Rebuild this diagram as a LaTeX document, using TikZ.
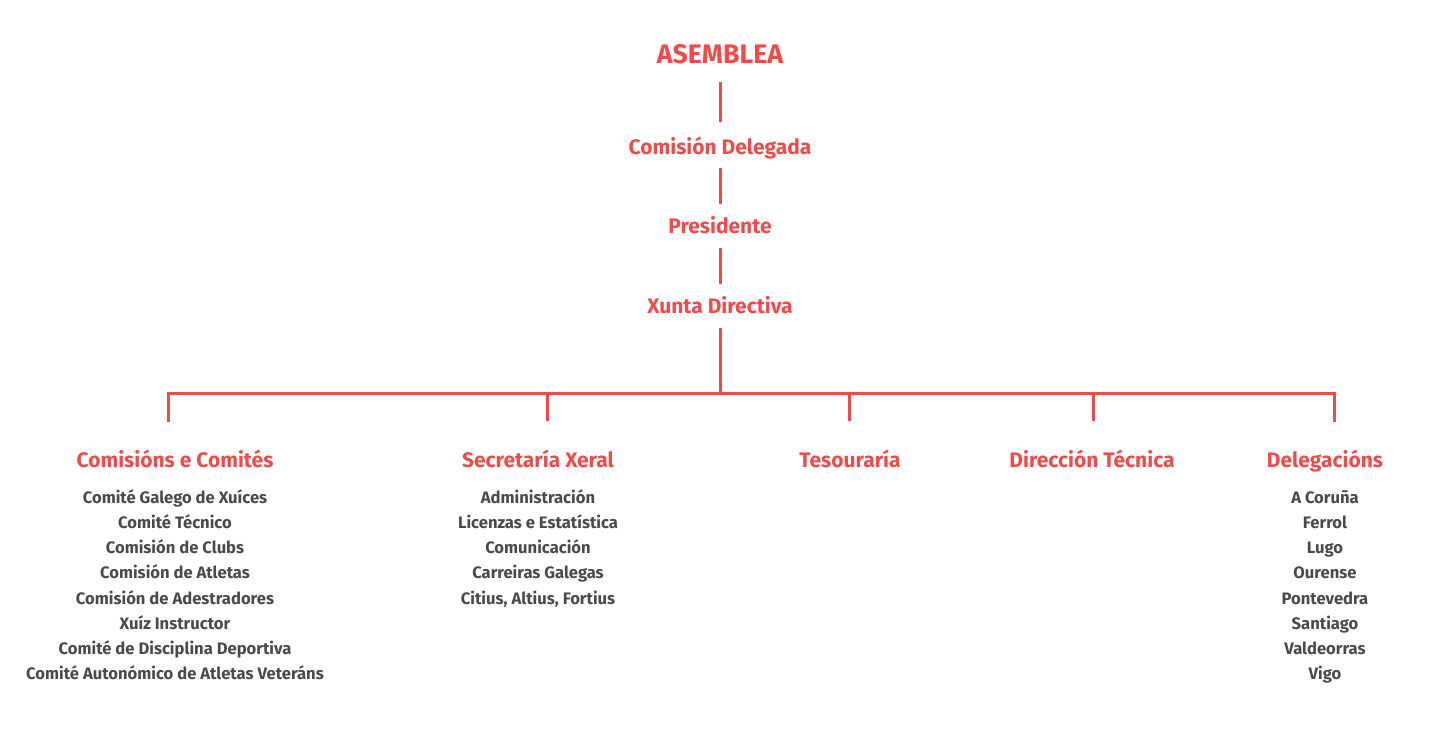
\documentclass[tikz,border=0pt]{standalone}
\usepackage{fontspec}
\setmainfont{Fira Sans}
\definecolor{orgred}{HTML}{EE4B4B}
\definecolor{orggray}{HTML}{4A4A4A}
\begin{document}
\begin{tikzpicture}[x=0.5pt,y=-0.5pt,
  top/.style={anchor=base,text=orgred,font=\fontsize{13.4}{15}\selectfont\bfseries,inner sep=0pt},
  head/.style={anchor=base,text=orgred,font=\fontsize{10.5}{13}\selectfont\bfseries,inner sep=0pt},
  item/.style={anchor=base,text=orggray,font=\fontsize{8.3}{10}\selectfont\bfseries,inner sep=0pt},
  conn/.style={draw=orgred,line width=1.5pt}]
\useasboundingbox (0,0) rectangle (1440,742);
\node[top] (asem) at (720,63.5) {ASEMBLEA};
\node[head] (comdel) at (720,155) {Comisión Delegada};
\node[head] (pres) at (720,234) {Presidente};
\node[head] (xunta) at (720,314) {Xunta Directiva};
\coordinate (a1) at (720,82); \coordinate (a2) at (720,122);
\coordinate (b1) at (720,168); \coordinate (b2) at (720,204);
\coordinate (c1) at (720,248); \coordinate (c2) at (720,284);
\coordinate (d1) at (720,328); \coordinate (d2) at (720,394);
\draw[conn] (a1) -- (a2);
\draw[conn] (b1) -- (b2);
\draw[conn] (c1) -- (c2);
\draw[conn] (d1) -- (d2);
\coordinate (hl) at (168,394); \coordinate (hr) at (1334,394);
\coordinate (e1) at (168,421); \coordinate (e2) at (547,421); \coordinate (e3) at (849,421);
\coordinate (e4) at (1093,421); \coordinate (e5) at (1334,421);
\coordinate (f2) at (547,394); \coordinate (f3) at (849,394); \coordinate (f4) at (1093,394);
\draw[conn,line cap=rect] (e1) -- (hl) -- (hr) -- (e5);
\draw[conn] (f2) -- (e2);
\draw[conn] (f3) -- (e3);
\draw[conn] (f4) -- (e4);
\node[head] (h1) at (175,468) {Comisións e Comités};
\node[head] (h2) at (538,468) {Secretaría Xeral};
\node[head] (h3) at (850,468) {Tesouraría};
\node[head] (h4) at (1092,468) {Dirección Técnica};
\node[head] (h5) at (1325,468) {Delegacións};
\foreach \t [count=\i] in {Comité Galego de Xuíces,Comité Técnico,Comisión de Clubs,Comisión de Atletas,Comisión de Adestradores,Xuíz Instructor,Comité de Disciplina Deportiva,Comité Autonómico de Atletas Veteráns}
  \node[item] (ca\i) at (175,479+25*\i) {\t};
\foreach \t [count=\i] in {Administración,Licenzas e Estatística,Comunicación,Carreiras Galegas,{Citius, Altius, Fortius}}
  \node[item] (sx\i) at (538,479+25*\i) {\t};
\foreach \t [count=\i] in {A Coruña,Ferrol,Lugo,Ourense,Pontevedra,Santiago,Valdeorras,Vigo}
  \node[item] (dl\i) at (1325,479+25*\i) {\t};
\end{tikzpicture}
\end{document}
